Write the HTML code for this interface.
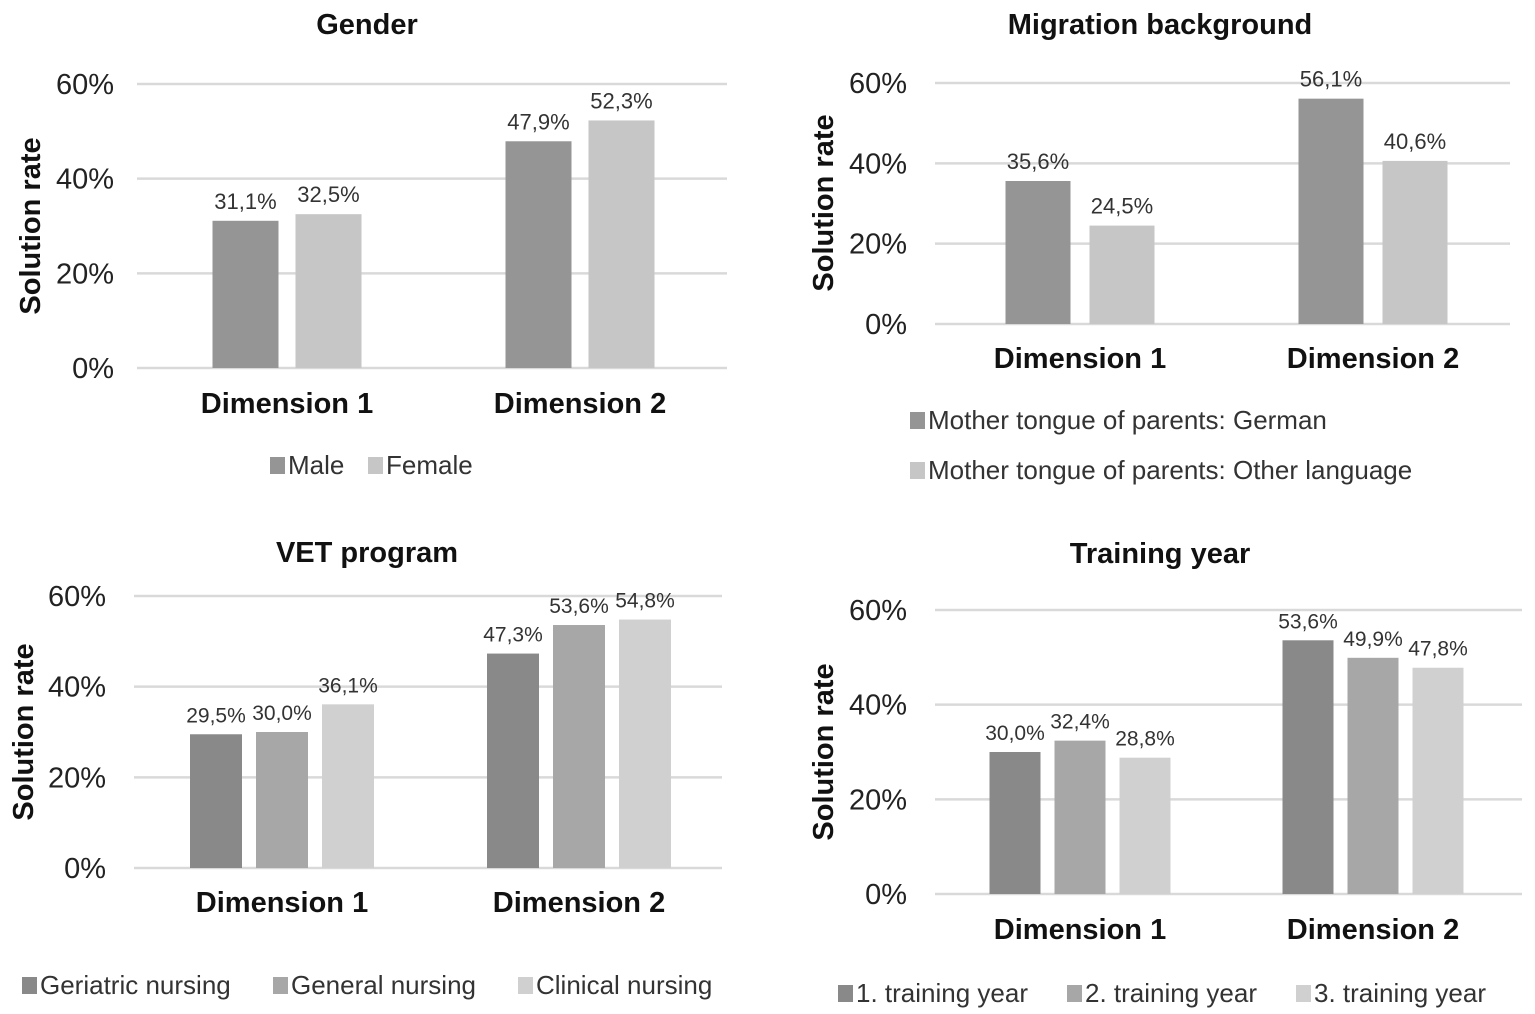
<!DOCTYPE html>
<html><head><meta charset="utf-8">
<style>
html,body{margin:0;padding:0;background:#fff;}
svg{display:block;font-family:"Liberation Sans",Arial,sans-serif;}
</style></head>
<body>
<svg id="root" width="1535" height="1014" viewBox="0 0 1535 1014" xmlns="http://www.w3.org/2000/svg"></svg>
<script>
const categories = ["Dimension 1", "Dimension 2"];
const yTicks = [0, 20, 40, 60];
const yTickLabels = ["0%", "20%", "40%", "60%"];

const genderSeries = ["Male", "Female"];
const genderMale = [31.1, 47.9];
const genderFemale = [32.5, 52.3];

const migrationSeries = ["Mother tongue of parents: German", "Mother tongue of parents: Other language"];
const migrationGerman = [35.6, 56.1];
const migrationOther = [24.5, 40.6];

const vetSeries = ["Geriatric nursing", "General nursing", "Clinical nursing"];
const vetGeriatric = [29.5, 47.3];
const vetGeneral = [30.0, 53.6];
const vetClinical = [36.1, 54.8];

const yearSeries = ["1. training year", "2. training year", "3. training year"];
const year1 = [30.0, 53.6];
const year2 = [32.4, 49.9];
const year3 = [28.8, 47.8];

const NS = "http://www.w3.org/2000/svg";
const root = document.getElementById('root');
function mk(tag, attrs, parent, text){
  const e = document.createElementNS(NS, tag);
  for (const k in attrs) e.setAttribute(k, attrs[k]);
  if (text !== undefined) e.textContent = text;
  (parent || root).appendChild(e);
  return e;
}
function fmt(v){ return v.toFixed(1).replace('.', ',') + '%'; }

function drawChart(c){
  const g = mk('g', {});
  
  
  const y = v => c.y0 + (c.y60 - c.y0) * v / 60;
  const t = mk('text', {x: c.titleX, y: c.titleY, 'text-anchor':'middle', 'font-size':29, 'font-weight':'bold', fill:'#111'}, g, c.title);
  
  
  yTicks.forEach((v,i) => {
    const l = mk('line', {x1:c.gx0, x2:c.gx1, y1:y(v), y2:y(v), stroke:'#d9d9d9', 'stroke-width':2.5}, g);
    
    
    const tl = mk('text', {x:c.tickX, y:y(v)+10, 'text-anchor':'end', 'font-size':29, fill:'#222'}, g, yTickLabels[i]);
    
    
  });
  const yt = mk('text', {x:0, y:0, transform:`translate(${c.ytX},${c.ytY}) rotate(-90)`, 'text-anchor':'middle', 'font-size':29, 'font-weight':'bold', fill:'#111'}, g, 'Solution rate');
  
  
  const n = c.series.length;
  categories.forEach((cat, ci) => {
    const cx = c.centers[ci];
    const groupW = n * c.barW + (n - 1) * c.gap;
    c.series.forEach((s, si) => {
      const v = s[ci];
      const bx = cx - groupW / 2 + si * (c.barW + c.gap);
      const r = mk('rect', {x:bx, y:y(v), width:c.barW, height:y(0)-y(v), fill:c.colors[si]}, g);
      
      
      const lb = mk('text', {x:bx + c.barW/2, y:y(v) - 12, 'text-anchor':'middle', 'font-size':c.lblSize, fill:'#333'}, g, fmt(v));
      
      
    });
    const cl = mk('text', {x:cx, y:c.catY, 'text-anchor':'middle', 'font-size':29, 'font-weight':'bold', fill:'#111'}, g, cat);
    
    
  });
  c.legend.forEach((L, i) => {
    const sq = mk('rect', {x:L.x, y:L.y-17, width:15, height:17, fill:c.colors[i]}, g);
    
    
    const lt = mk('text', {x:L.x+18, y:L.y, 'font-size':26, fill:'#333'}, g, c.names[i]);
    
    
  });
}

drawChart({name:'gender-chart', title:'Gender', titleX:367, titleY:34, gx0:137, gx1:727, y0:368, y60:84, tickX:114,
  ytX:40, ytY:226, barW:66, gap:17, lblSize:22, catY:413, centers:[287,580],
  series:[genderMale, genderFemale], colors:['#959595','#c6c6c6'], names:genderSeries,
  legend:[{x:270,y:474},{x:368,y:474}]});
drawChart({name:'migration-chart', title:'Migration background', titleX:1160, titleY:34, gx0:935, gx1:1510, y0:324, y60:83, tickX:907,
  ytX:833, ytY:203, barW:65, gap:19, lblSize:22, catY:368, centers:[1080,1373],
  series:[migrationGerman, migrationOther], colors:['#959595','#c6c6c6'], names:migrationSeries,
  legend:[{x:910,y:429},{x:910,y:479}]});
drawChart({name:'vet-chart', title:'VET program', titleX:367, titleY:562, gx0:134, gx1:722, y0:868, y60:596, tickX:106,
  ytX:33, ytY:732, barW:52, gap:14, lblSize:21, catY:912, centers:[282,579],
  series:[vetGeriatric, vetGeneral, vetClinical], colors:['#898989','#a7a7a7','#d0d0d0'], names:vetSeries,
  legend:[{x:22,y:994},{x:273,y:994},{x:518,y:994}]});
drawChart({name:'training-year-chart', title:'Training year', titleX:1160, titleY:563, gx0:935, gx1:1522, y0:894, y60:610, tickX:907,
  ytX:833, ytY:752, barW:51, gap:14, lblSize:21, catY:939, centers:[1080,1373],
  series:[year1, year2, year3], colors:['#898989','#a7a7a7','#d0d0d0'], names:yearSeries,
  legend:[{x:838,y:1002},{x:1067,y:1002},{x:1296,y:1002}]});
</script>
</body></html>
